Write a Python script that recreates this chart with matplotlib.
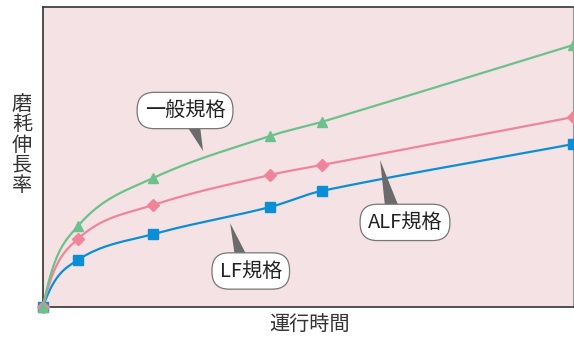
import numpy as np
import matplotlib
matplotlib.use("Agg")
import matplotlib.pyplot as plt
from matplotlib.patches import Polygon

plt.rcParams['font.family'] = ['Noto Sans CJK JP', 'DejaVu Sans']

# operating time (arbitrary units) and wear elongation rate
hours = [0, 0.66, 2.08, 4.28, 5.26, 10.0]
standard = [0, 2.70, 4.30, 5.70, 6.17, 8.73]
alf = [0, 2.27, 3.40, 4.40, 4.73, 6.33]
lf = [0, 1.57, 2.43, 3.33, 3.87, 5.43]

labels = ["一般規格", "ALF規格", "LF規格"]
colors = ["#6cc18c", "#f0859a", "#0a8fd6"]
markers = ["^", "D", "s"]


def smooth(x, y, n=40):
    # cubic hermite through the points, only for drawing a smooth curve
    x = np.asarray(x, float)
    y = np.asarray(y, float)
    h = np.diff(x)
    d = np.diff(y) / h
    m = np.zeros_like(y)
    for i in range(1, len(x) - 1):
        m[i] = (y[i + 1] - y[i - 1]) / (x[i + 1] - x[i - 1])
    m[0] = 2.2 * d[0]
    m[-1] = d[-1]
    xs, ys = [], []
    for i in range(len(x) - 1):
        t = np.linspace(0, 1, n)
        h00 = 2 * t**3 - 3 * t**2 + 1
        h10 = t**3 - 2 * t**2 + t
        h01 = -2 * t**3 + 3 * t**2
        h11 = t**3 - t**2
        xs.append(x[i] + t * h[i])
        ys.append(h00 * y[i] + h10 * h[i] * m[i] + h01 * y[i + 1] + h11 * h[i] * m[i + 1])
    return np.concatenate(xs), np.concatenate(ys)


fig = plt.figure(figsize=(5.74, 3.38), dpi=100)
ax = fig.add_axes([43 / 574, 31 / 338, 530 / 574, 300 / 338])
ax.set_facecolor("#f4e2e5")

for series, c, mk in zip([lf, alf, standard], [colors[2], colors[1], colors[0]],
                         [markers[2], markers[1], markers[0]]):
    sx, sy = smooth(hours, series)
    ax.plot(sx, sy, color=c, lw=1.6, zorder=3)
    ax.plot(hours, series, ls="none", marker=mk, color=c,
            markersize=7 if mk != "D" else 6, zorder=4, clip_on=False)

ax.set_xlim(0, 10)
ax.set_ylim(0, 10)
ax.set_xticks([])
ax.set_yticks([])
for s in ["left", "bottom", "top"]:
    ax.spines[s].set_color("#333333")
    ax.spines[s].set_linewidth(1.2)
ax.spines["right"].set_color("#999999")

# callouts: (text, text pos, pointer triangle)
callouts = [
    (labels[0], (2.68, 6.55), [(2.70, 6.07), (2.96, 6.07), (3.02, 5.20)]),
    (labels[1], (6.83, 2.82), [(6.45, 3.40), (6.70, 3.40), (6.36, 4.90)]),
    (labels[2], (3.92, 1.20), [(3.62, 1.70), (3.85, 1.70), (3.53, 2.80)]),
]
for txt, pos, tri in callouts:
    ax.add_patch(Polygon(tri, closed=True, facecolor="#6b6b6b", edgecolor="none", zorder=5))
    ax.text(pos[0], pos[1], txt, ha="center", va="center", fontsize=14.5, color="#222222",
            zorder=6,
            bbox=dict(boxstyle="round,pad=0.38,rounding_size=0.85", facecolor="white",
                      edgecolor="#777777", linewidth=0.9))

fig.text(22 / 574, 1 - 145 / 338, "磨\n耗\n伸\n長\n率", ha="center", va="center",
         fontsize=14.5, color="#333333", linespacing=0.95)
fig.text(310 / 574, 1 - 325 / 338, "運行時間", ha="center", va="center",
         fontsize=14.5, color="#333333")

fig.savefig("out.png", dpi=100)
